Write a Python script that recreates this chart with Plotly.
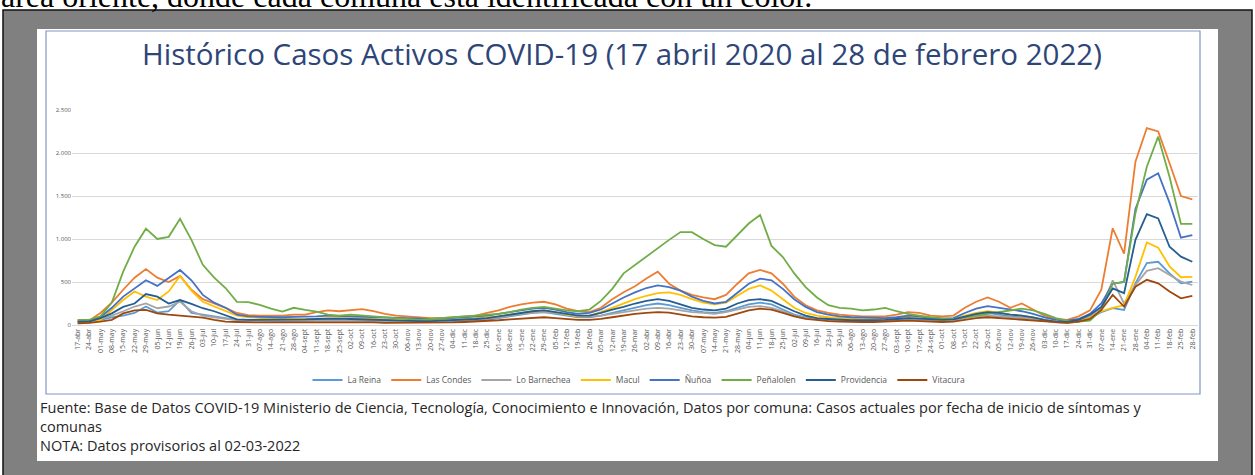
import plotly.graph_objects as go

labels = ["17-abr","24-abr","01-may","08-may","15-may","22-may","29-may","05-jun","12-jun","19-jun",
          "26-jun","03-jul","10-jul","17-jul","24-jul","31-jul","07-ago","14-ago","21-ago","28-ago",
          "04-sept","11-sept","18-sept","25-sept","02-oct","09-oct","16-oct","23-oct","30-oct","06-nov",
          "13-nov","20-nov","27-nov","04-dic","11-dic","18-dic","25-dic","01-ene","08-ene","15-ene",
          "22-ene","29-ene","05-feb","12-feb","19-feb","26-feb","05-mar","12-mar","19-mar","26-mar",
          "02-abr","09-abr","16-abr","23-abr","30-abr","07-may","14-may","21-may","28-may","04-jun",
          "11-jun","18-jun","25-jun","02-jul","09-jul","16-jul","23-jul","30-jul","06-ago","13-ago",
          "20-ago","27-ago","03-sept","10-sept","17-sept","24-sept","01-oct","08-oct","15-oct","22-oct",
          "29-oct","05-nov","12-nov","19-nov","26-nov","03-dic","10-dic","17-dic","24-dic","31-dic",
          "07-ene","14-ene","21-ene","28-ene","04-feb","11-feb","18-feb","25-feb","28-feb"]

la_reina = [40,40,60,90,110,140,215,145,160,290,140,120,100,80,60,55,50,50,45,45,
            45,50,55,55,55,50,45,40,40,35,35,35,40,45,50,55,60,80,100,120,
            140,150,130,110,90,90,110,140,170,200,230,250,230,200,170,150,140,160,200,240,
            260,240,180,120,90,70,60,55,50,45,45,50,60,70,60,50,45,50,90,120,
            140,120,100,90,80,50,30,25,40,80,150,195,175,485,720,735,600,485,505]
las_condes = [40,50,140,260,410,550,650,550,500,570,410,300,250,200,140,115,110,110,110,120,
              120,150,170,160,175,185,160,130,110,100,90,80,80,90,100,110,140,170,210,240,
              260,270,240,190,160,150,200,300,380,450,540,620,480,400,350,320,300,350,480,600,
              640,600,480,330,230,170,140,120,110,100,100,100,120,150,140,110,100,110,200,270,
              320,270,200,250,180,110,70,60,100,170,410,1125,830,1900,2290,2250,1880,1500,1460]
lo_barnechea = [60,60,70,110,160,215,250,195,215,270,160,110,90,70,55,50,50,45,45,45,
                45,50,55,55,55,50,45,45,40,40,40,40,45,50,55,60,70,90,110,130,
                140,150,140,120,100,100,110,130,150,170,190,200,190,170,150,140,130,150,180,210,
                220,200,160,110,80,65,55,50,45,45,45,50,55,60,55,50,45,50,80,100,
                110,100,90,80,70,50,35,30,50,100,200,520,250,465,630,660,580,505,465]
macul = [20,25,60,175,290,390,330,290,390,570,400,270,215,160,110,90,80,75,70,70,
         70,75,80,80,85,80,70,60,55,50,50,50,55,60,70,80,90,100,120,140,
         160,170,150,120,100,110,150,200,250,300,340,370,380,350,300,260,240,260,340,420,
         460,400,300,200,140,110,90,80,70,65,65,70,80,90,80,70,60,70,110,140,
         160,140,120,110,90,60,40,30,40,80,160,200,230,560,960,900,680,555,560]
nunoa = [40,45,90,200,330,420,520,455,545,640,520,350,260,200,120,100,95,90,90,95,
         95,100,110,105,100,95,90,85,80,75,70,70,75,80,90,100,110,130,150,170,
         190,200,180,150,130,140,180,250,320,380,430,460,440,400,330,280,250,270,380,480,
         540,520,420,300,210,150,120,100,90,85,80,80,90,110,100,80,70,80,140,190,
         220,200,180,160,130,90,60,50,70,130,250,480,500,1350,1690,1765,1420,1015,1045]
penalolen = [60,60,100,260,620,910,1120,1000,1025,1235,990,700,550,430,270,265,235,190,155,200,
             175,155,120,110,120,110,100,90,80,70,60,70,80,90,100,110,120,130,150,180,
             200,210,190,170,160,180,280,420,600,700,800,900,990,1080,1080,1000,930,910,1050,1180,
             1280,920,790,600,440,320,230,200,190,170,180,200,160,130,110,90,80,70,90,110,
             130,150,170,190,170,130,80,50,40,50,175,480,500,1300,1840,2190,1720,1175,1175]
providencia = [40,40,80,135,210,250,360,330,250,290,245,195,160,110,65,60,60,60,60,65,
               65,70,75,75,70,65,60,55,50,45,45,45,50,55,60,70,80,100,120,140,
               160,170,150,130,110,110,140,180,210,250,280,300,280,240,200,180,170,190,250,290,
               300,280,220,160,110,80,70,60,55,55,55,60,70,80,75,65,60,65,100,130,
               150,140,120,110,90,60,40,35,60,120,210,425,370,990,1290,1240,910,795,735]
vitacura = [20,25,40,60,135,170,175,135,120,110,95,85,60,40,35,30,30,30,30,30,
            30,35,35,35,35,30,30,25,25,25,25,25,30,30,35,40,45,55,65,75,
            85,90,80,70,60,60,70,90,110,130,140,150,145,120,100,90,85,95,130,170,
            190,180,140,100,70,55,45,40,35,35,35,40,45,50,45,40,35,40,60,80,
            90,80,70,60,55,40,30,25,40,70,175,350,215,445,525,485,390,310,340]

series_names = ["La Reina","Las Condes","Lo Barnechea","Macul","Ñuñoa","Peñalolen","Providencia","Vitacura"]
series_values = [la_reina, las_condes, lo_barnechea, macul, nunoa, penalolen, providencia, vitacura]
series_colors = ["#5B9BD5","#ED7D31","#A5A5A5","#FFC000","#4472C4","#70AD47","#255E91","#9E480E"]

y_ticks = [0, 500, 1000, 1500, 2000, 2500]
y_ticktext = ["0", "500", "1.000", "1.500", "2.000", "2.500"]

W, H = 1255, 475
L, R, T, B = 72, 1198, 110, 325

def xp(px):
    return (px - L) / (R - L)

def yp(py):
    return (B - py) / (B - T)

xs = list(range(len(labels)))
fig = go.Figure()
for name, vals, col in zip(series_names, series_values, series_colors):
    fig.add_trace(go.Scatter(x=xs, y=vals, name=name, mode="lines",
                             line=dict(color=col, width=1.8)))

shapes = [
    dict(type="rect", xref="paper", yref="paper", x0=xp(3), x1=xp(1252), y0=yp(10), y1=yp(480),
         fillcolor="#808080", line=dict(color="#111111", width=1.5), layer="below"),
    dict(type="rect", xref="paper", yref="paper", x0=xp(37), x1=xp(1218), y0=yp(29), y1=yp(461),
         fillcolor="white", line=dict(width=0), layer="below"),
    dict(type="rect", xref="paper", yref="paper", x0=xp(46), x1=xp(1200), y0=yp(31), y1=yp(394),
         fillcolor="rgba(0,0,0,0)", line=dict(color="#8196C4", width=1.2), layer="below"),
]

source_lines = ["Fuente: Base de Datos COVID-19 Ministerio de Ciencia, Tecnología, Conocimiento e Innovación, Datos por comuna: Casos actuales por fecha de inicio de síntomas y",
                "comunas",
                "NOTA: Datos provisorios al 02-03-2022"]

annotations = [
    dict(text="área oriente, donde cada comuna está identificada con un color.", xref="paper", yref="paper",
         x=xp(-1), y=yp(-4), xanchor="left", yanchor="middle", showarrow=False,
         font=dict(family="Liberation Serif", size=32, color="#000000")),
    dict(text="Histórico Casos Activos COVID-19 (17 abril 2020 al 28 de febrero 2022)", xref="paper", yref="paper",
         x=xp(622), y=yp(54), xanchor="center", yanchor="middle", showarrow=False,
         font=dict(family="Open Sans", size=29.5, color="#2E4677")),
    dict(text="<br>".join(source_lines), xref="paper", yref="paper", x=xp(38), y=yp(426),
         xanchor="left", yanchor="middle", align="left", showarrow=False,
         font=dict(family="Open Sans", size=14.5, color="#262626")),
]

fig.update_layout(
    width=W, height=H,
    margin=dict(l=L, r=W - R, t=T, b=H - B, pad=0),
    paper_bgcolor="white", plot_bgcolor="rgba(0,0,0,0)",
    shapes=shapes, annotations=annotations,
    showlegend=True,
    legend=dict(orientation="h", x=xp(639), y=yp(380), xanchor="center", yanchor="middle",
                font=dict(family="Open Sans", size=8.5, color="#595959"), bgcolor="rgba(0,0,0,0)",
                itemwidth=30, tracegroupgap=0),
    font=dict(family="Open Sans"),
)
fig.update_xaxes(range=[-0.5, len(labels) - 0.5], tickmode="array", tickvals=xs, ticktext=labels,
                 tickangle=-90, tickfont=dict(size=7, color="#595959"), showgrid=False,
                 showline=True, linecolor="#D9D9D9", linewidth=1, ticks="", zeroline=False)
fig.update_yaxes(range=[0, 2500], tickmode="array", tickvals=y_ticks, ticktext=y_ticktext,
                 tickfont=dict(size=6, color="#595959"), showgrid=True, gridcolor="#D9D9D9", gridwidth=1,
                 zeroline=False, showline=False, ticks="")

fig.write_html("out.html", config={"displayModeBar": False},
               post_script="document.body.style.margin='0';document.body.style.overflow='hidden';")
